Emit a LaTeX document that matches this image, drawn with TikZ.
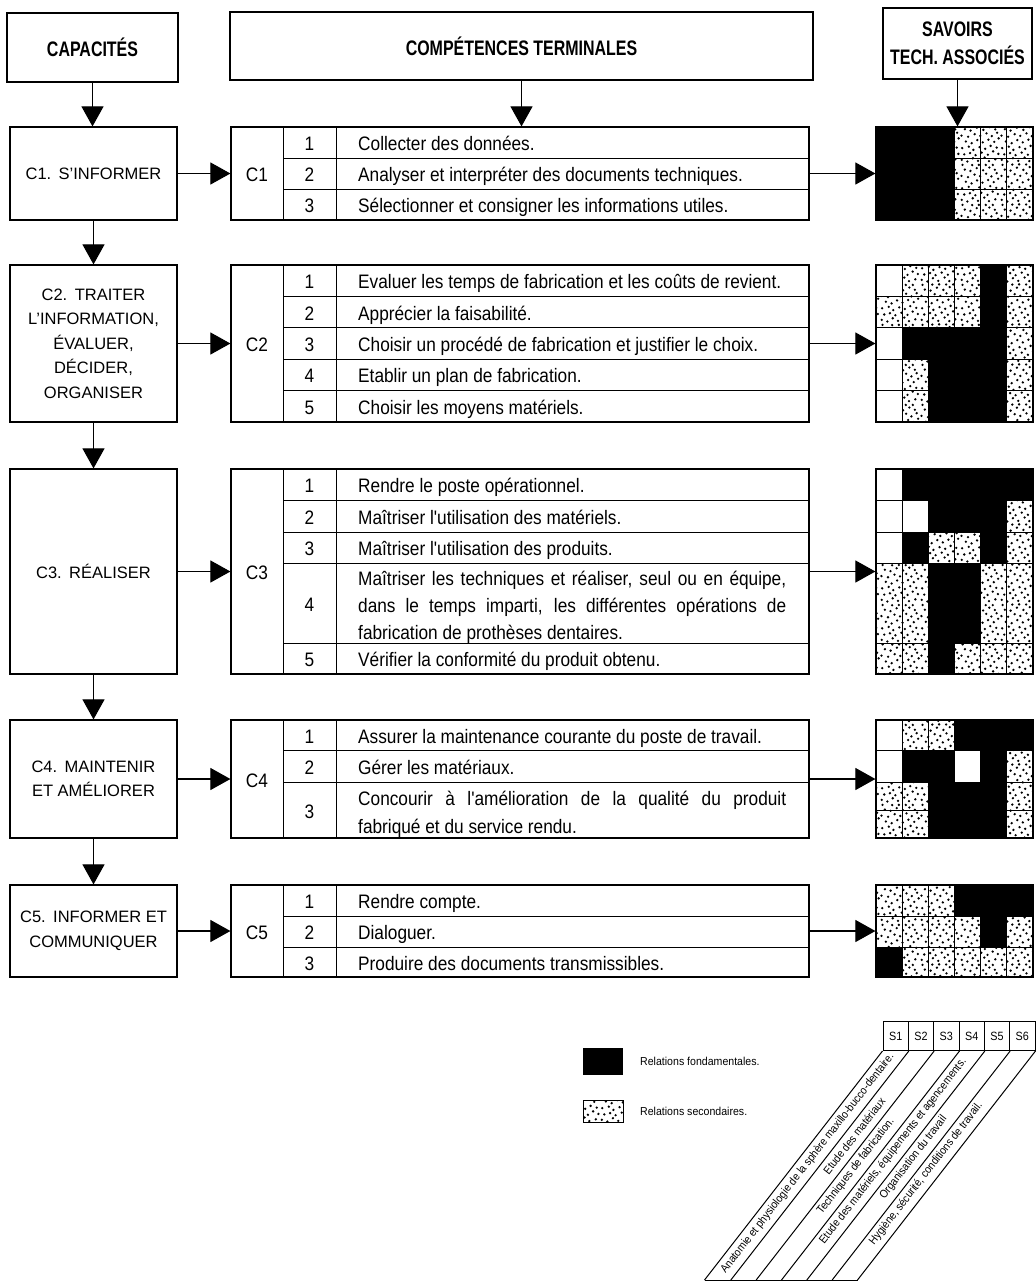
\documentclass[tikz,border=0pt]{standalone}
\usepackage{fontspec}
\setmainfont{Liberation Sans}
\newfontfamily\tabf[FakeStretch=0.885]{Liberation Sans}
\newfontfamily\hdrf[FakeStretch=0.76]{Liberation Sans}
\newfontfamily\smallf[FakeStretch=0.9]{Liberation Sans}
\newfontfamily\legf[FakeStretch=0.92]{Liberation Sans}
\usetikzlibrary{arrows.meta,patterns}

\pgfdeclarepatternformonly{stipple}{\pgfpointorigin}{\pgfpoint{40pt}{40pt}}{\pgfpoint{40pt}{40pt}}{%
  \foreach \p/\q in {1.8/3.2,7.4/1.5,12.9/4.8,18.2/2.1,24.6/5.5,29.3/1.9,35.8/3.7,
    4.3/8.6,10.1/9.9,15.6/7.8,21.7/10.4,27.9/8.2,33.1/11.6,38.4/9.1,
    2.2/14.9,8.8/16.3,13.4/13.1,19.5/15.8,25.2/14.2,30.6/17.1,36.7/15.4,
    5.9/21.5,11.7/19.8,17.3/22.9,22.8/20.6,28.4/23.3,34.2/21.1,38.6/24.6,
    1.5/27.4,8.1/26.2,14.7/28.8,20.3/27.1,26.5/29.6,31.8/26.9,37.1/30.2,
    4.9/33.8,10.6/32.4,16.9/35.3,23.4/33.1,29.7/35.9,35.3/33.6,
    2.6/38.6,12.3/38.4,19.1/38.6,26.1/38.5,33.2/38.5}{%
    \pgfpathcircle{\pgfpoint{\p pt}{\q pt}}{1.3pt}}%
  \pgfusepath{fill}}

\newcommand\gridrow[3]{%
  \foreach \c [count=\i from 0] in {#3} {%
    \pgfmathsetmacro\xa{876+\i*26.1667}%
    \pgfmathsetmacro\xb{\xa+26.1667}%
    \if\c B\fill[black] (\xa,#1) rectangle (\xb,#2);\fi
    \if\c D\fill[pattern=stipple] (\xa,#1) rectangle (\xb,#2);\fi
    \draw[cellline] (\xa,#1) rectangle (\xb,#2);%
  }}

\newcommand\ttable[4]{%
  \node[tbl,minimum height={#3-#2}] (#1) at (520,{(#2+#3)/2}) {};
  \node[ttext,anchor=base] (#1l) at (257,{(#2+#3)/2+8}) {#4};
  \draw[tline] (283,#2) -- (283,#3) (336,#2) -- (336,#3);}

\newcommand\trow[6]{%
  \draw[tline] (283,#2) -- (809,#2);
  \node[ttext,anchor=base] (#1n#4) at (309.5,{(#2+#3)/2+8}) {#4};
  \node[ttext,anchor=base west,#6] (#1x#4) at (358,{(#2+#3)/2+8}) {#5};}

\begin{document}
\begin{tikzpicture}[x=1pt,y=-1pt,
  box/.style={draw,line width=1.2pt,inner sep=0pt,align=center},
  capbox/.style={box,minimum width=167pt,font=\fontsize{16.5}{24.5}\selectfont},
  hdr/.style={box,font=\hdrf\bfseries\fontsize{21}{28}\selectfont},
  tbl/.style={draw,line width=1.2pt,minimum width=578pt,inner sep=0pt},
  grd/.style={draw,line width=1.2pt,minimum width=157pt,inner sep=0pt},
  tline/.style={line width=1pt},
  cellline/.style={line width=0.9pt},
  ttext/.style={font=\tabf\fontsize{19.5}{27}\selectfont,inner sep=0pt},
  multi/.style={anchor=west,yshift=4pt,text width=428pt,align=justify},
  sbox/.style={draw,line width=1pt,minimum width=25.333pt,minimum height=29pt,inner sep=0pt,font=\smallf\fontsize{12}{14}\selectfont},
  rot/.style={rotate=52.14,inner sep=0pt,font=\smallf\fontsize{11.3}{13}\selectfont},
  legtext/.style={inner sep=0pt,font=\legf\fontsize{11.5}{13}\selectfont},
  conn/.style={line width=1.1pt,-{Triangle[width=22pt,length=20pt]}},
]
\fill[white] (0,0) rectangle (1036,1283);
\useasboundingbox (0,0) rectangle (1036,1283);

% headers
\node[hdr,minimum width=171pt,minimum height=69pt] (hcap) at (92.5,47.5) {CAPACITÉS};
\node[hdr,minimum width=583pt,minimum height=68pt] (hcomp) at (521.5,46) {COMPÉTENCES TERMINALES};
\node[hdr,minimum width=149pt,minimum height=71pt] (hsav) at (957.5,43.5) {SAVOIRS\\TECH. ASSOCIÉS};

% capacities
\node[capbox,minimum height=93pt] (c1) at (93.5,173.5) {C1.\hspace{0.45em}S'INFORMER};
\node[capbox,minimum height=157pt] (c2) at (93.5,343.5) {C2.\hspace{0.45em}TRAITER\\L'INFORMATION,\\ÉVALUER,\\DÉCIDER,\\ORGANISER};
\node[capbox,minimum height=205pt] (c3) at (93.5,571.5) {C3.\hspace{0.45em}RÉALISER};
\node[capbox,minimum height=118pt] (c4) at (93.5,779) {C4.\hspace{0.45em}MAINTENIR\\ET AMÉLIORER};
\node[capbox,minimum height=92pt] (c5) at (93.5,931) {C5.\hspace{0.45em}INFORMER ET\\COMMUNIQUER};

% tables
\ttable{t1}{127}{220}{C1}
\trow{t1}{127}{158}{1}{Collecter des données.}{}
\trow{t1}{158}{189}{2}{Analyser et interpréter des documents techniques.}{}
\trow{t1}{189}{220}{3}{Sélectionner et consigner les informations utiles.}{}

\ttable{t2}{265}{422}{C2}
\trow{t2}{265}{296.4}{1}{Evaluer les temps de fabrication et les coûts de revient.}{}
\trow{t2}{296.4}{327.8}{2}{Apprécier la faisabilité.}{}
\trow{t2}{327.8}{359.2}{3}{Choisir un procédé de fabrication et justifier le choix.}{}
\trow{t2}{359.2}{390.6}{4}{Etablir un plan de fabrication.}{}
\trow{t2}{390.6}{422}{5}{Choisir les moyens matériels.}{}

\ttable{t3}{469}{674}{C3}
\trow{t3}{469}{500}{1}{Rendre le poste opérationnel.}{}
\trow{t3}{500}{532}{2}{Maîtriser l'utilisation des matériels.}{}
\trow{t3}{532}{563}{3}{Maîtriser l'utilisation des produits.}{}
\trow{t3}{563}{643}{4}{Maîtriser les techniques et réaliser, seul ou en équipe,\linebreak dans le temps imparti, les différentes opérations de\linebreak fabrication de prothèses dentaires.}{multi}
\trow{t3}{643}{674}{5}{Vérifier la conformité du produit obtenu.}{}

\ttable{t4}{720}{838}{C4}
\trow{t4}{720}{750}{1}{Assurer la maintenance courante du poste de travail.}{}
\trow{t4}{750}{782}{2}{Gérer les matériaux.}{}
\trow{t4}{782}{838}{3}{Concourir à l'amélioration de la qualité du produit\linebreak fabriqué et du service rendu.}{multi,font=\tabf\fontsize{19.5}{28}\selectfont}

\ttable{t5}{885}{977}{C5}
\trow{t5}{885}{916}{1}{Rendre compte.}{}
\trow{t5}{916}{947}{2}{Dialoguer.}{}
\trow{t5}{947}{977}{3}{Produire des documents transmissibles.}{}

% grids
\gridrow{127}{158}{B,B,B,D,D,D}
\gridrow{158}{189}{B,B,B,D,D,D}
\gridrow{189}{220}{B,B,B,D,D,D}
\node[grd,minimum height=93pt] (g1) at (954.5,173.5) {};

\gridrow{265}{296.4}{W,D,D,D,B,D}
\gridrow{296.4}{327.8}{D,D,D,D,B,D}
\gridrow{327.8}{359.2}{W,B,B,B,B,D}
\gridrow{359.2}{390.6}{W,D,B,B,B,D}
\gridrow{390.6}{422}{W,D,B,B,B,D}
\node[grd,minimum height=157pt] (g2) at (954.5,343.5) {};

\gridrow{469}{500}{W,B,B,B,B,B}
\gridrow{500}{532}{W,W,B,B,B,D}
\gridrow{532}{563}{W,B,D,D,B,D}
\gridrow{563}{643}{D,D,B,B,D,D}
\gridrow{643}{674}{D,D,B,D,D,D}
\node[grd,minimum height=205pt] (g3) at (954.5,571.5) {};

\gridrow{720}{750}{W,D,D,B,B,B}
\gridrow{750}{782}{W,B,B,W,B,D}
\gridrow{782}{810}{D,D,B,B,B,D}
\gridrow{810}{838}{D,D,B,B,B,D}
\node[grd,minimum height=118pt] (g4) at (954.5,779) {};

\gridrow{885}{916}{D,D,D,B,B,B}
\gridrow{916}{947}{D,D,D,D,B,D}
\gridrow{947}{977}{B,D,D,D,D,D}
\node[grd,minimum height=92pt] (g5) at (954.5,931) {};

% connectors
\draw[conn] (hcap.south) -- (hcap.south |- c1.north);
\draw[conn] (hcomp.south) -- (hcomp.south |- t1.north);
\draw[conn] (hsav.south) -- (hsav.south |- g1.north);
\foreach \a/\b in {c1/c2,c2/c3,c3/c4,c4/c5}{\draw[conn] (\a.south) -- (\b.north);}
\foreach \i in {1,...,5}{
  \draw[conn] (c\i.east) -- (t\i.west);
  \draw[conn] (t\i.east) -- (g\i.west);
}

% S header and slanted columns
\foreach \i in {1,...,6}{\node[sbox] (s\i) at ({883+25.333*(\i-0.5)},1036) {S\i};}
\draw[tline] (s1.south west) -- ++(-178,229) coordinate (b0);
\foreach \i in {1,...,6}{\draw[tline] (s\i.south east) -- ++(-178,229) coordinate (b\i);}
\draw[tline] (b0) -- (b6);

\node[rot,anchor=east] (r1) at (892.0,1054.7) {Anatomie et physiologie de la sphère maxillo-bucco-dentaire.};
\node[rot,anchor=east] (r2) at (882.9,1099.0) {Etude des matériaux};
\node[rot,anchor=east] (r3) at (892.3,1119.5) {Techniques de fabrication.};
\node[rot,anchor=east] (r4) at (964.3,1059.5) {Etude des matériels, équipements et agencements.};
\node[rot,anchor=east] (r5) at (944.8,1117.2) {Organisation du travail};
\node[rot,anchor=east] (r6) at (980.5,1103.7) {Hygiène, sécurité, conditions de travail.};

% legend
\node[fill=black,minimum width=40pt,minimum height=27pt,inner sep=0pt] (lb) at (603,1061.5) {};
\node[legtext,anchor=west] (lbt) at (640,1061.5) {Relations fondamentales.};
\fill[pattern=stipple] (583,1100) rectangle (623,1122);
\node[draw,line width=0.4pt,minimum width=40pt,minimum height=22pt,inner sep=0pt] (ld) at (603,1111) {};
\node[legtext,anchor=west] (ldt) at (640,1111) {Relations secondaires.};
\end{tikzpicture}
\end{document}
